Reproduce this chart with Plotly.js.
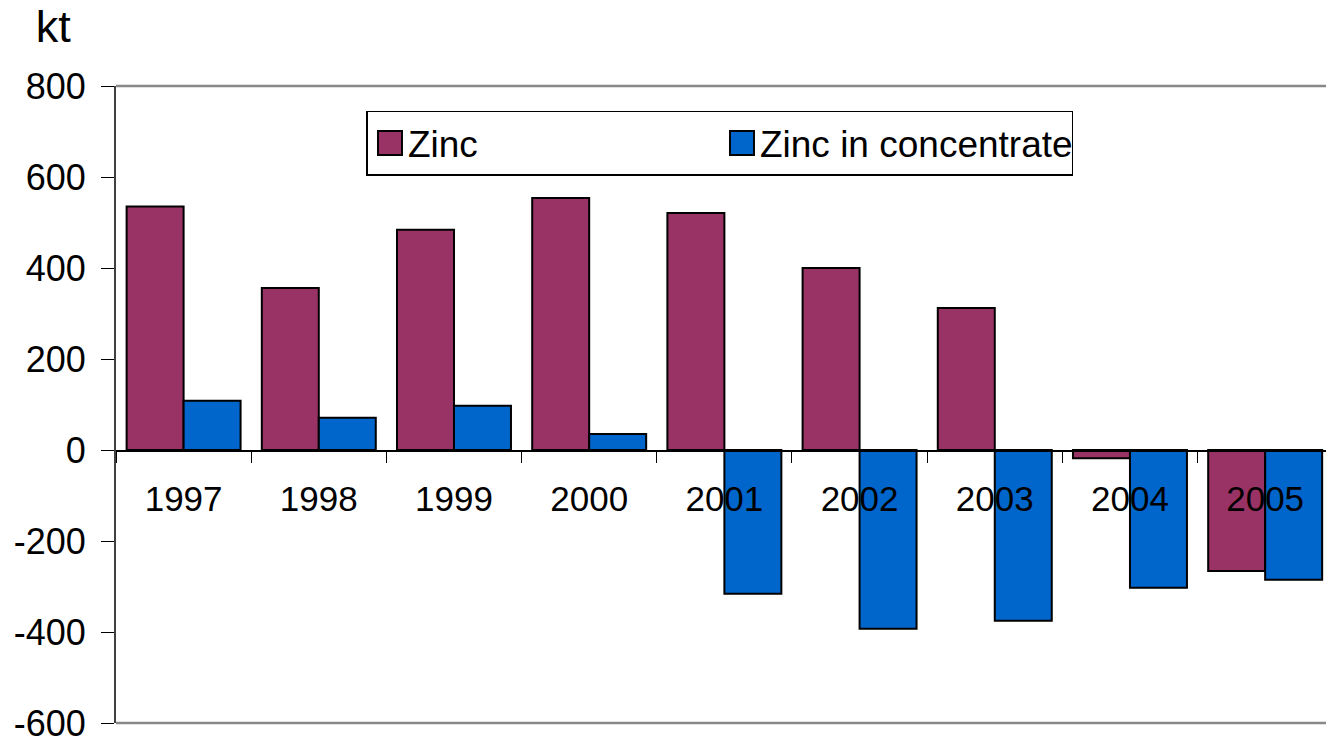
<!DOCTYPE html>
<html>
<head>
<meta charset="utf-8">
<script src="https://cdn.plot.ly/plotly-3.0.1.min.js"></script>
<style>
  html, body { margin: 0; padding: 0; background: #fff; overflow: hidden; }
  #chart { width: 1326px; height: 737px; }
</style>
</head>
<body>
<div id="chart"></div>
<script>
// values (kt)
const years = ['1997', '1998', '1999', '2000', '2001', '2002', '2003', '2004', '2005'];
const zinc = [535, 356, 484, 554, 521, 400, 312, -18, -266];
const zincConc = [108, 71, 97, 35, -316, -393, -375, -303, -285];

// y tick labels, written with a plain hyphen as in the original
const yTickVals = [-600, -400, -200, 0, 200, 400, 600, 800];
const yTickText = ['-600', '-400', '-200', '0', '200', '400', '600', '800'];

const yMin = -600;
const yMax = 800;
const font = 'Liberation Sans, Arial, sans-serif';

const traces = [
  {
    type: 'bar',
    name: 'Zinc',
    x: years,
    y: zinc,
    marker: { color: '#993366', line: { color: '#000000', width: 2 } }
  },
  {
    type: 'bar',
    name: 'Zinc in concentrate',
    x: years,
    y: zincConc,
    marker: { color: '#0066CC', line: { color: '#000000', width: 2 } }
  }
];

const layout = {
  width: 1326,
  height: 737,
  margin: { l: 116, r: 0, t: 86, b: 14 },
  paper_bgcolor: '#ffffff',
  plot_bgcolor: '#ffffff',
  font: { family: font, size: 36, color: '#000000' },
  barmode: 'group',
  bargap: 0.157,
  bargroupgap: 0,
  title: {
    text: 'kt',
    font: { family: font, size: 45, color: '#000000' },
    xref: 'container', yref: 'container',
    x: 0.027, xanchor: 'left',
    y: 0.965, yanchor: 'middle'
  },
  xaxis: {
    type: 'category',
    range: [-0.5, 8.45],
    anchor: 'free',
    position: (0 - yMin) / (yMax - yMin),
    showline: true,
    linecolor: '#000000',
    linewidth: 1.5,
    ticks: 'outside',
    tickson: 'boundaries',
    ticklen: 11,
    tickwidth: 1,
    tickcolor: '#000000',
    ticklabelstandoff: 17,
    ticklabeloverflow: 'allow',
    showgrid: false,
    zeroline: false,
    tickfont: { family: font, size: 35, color: '#000000' },
    fixedrange: true
  },
  yaxis: {
    range: [yMin, yMax],
    tickmode: 'array',
    tickvals: yTickVals,
    ticktext: yTickText,
    showline: true,
    linecolor: '#404040',
    linewidth: 2,
    ticks: 'outside',
    ticklen: 13,
    tickwidth: 1,
    tickcolor: '#000000',
    ticklabelstandoff: 8,
    ticklabeloverflow: 'allow',
    showgrid: false,
    zeroline: false,
    tickfont: { family: font, size: 36, color: '#000000' },
    fixedrange: true
  },
  shapes: [
    { type: 'line', xref: 'paper', yref: 'paper', x0: 0, x1: 1, y0: 1, y1: 1,
      line: { color: '#888888', width: 2.5 } },
    { type: 'line', xref: 'paper', yref: 'paper', x0: 0, x1: 1, y0: 0, y1: 0,
      line: { color: '#888888', width: 2.5 } }
  ],
  showlegend: true,
  legend: {
    orientation: 'h',
    x: 0.207, xanchor: 'left',
    y: 0.961, yanchor: 'top',
    bgcolor: '#ffffff',
    bordercolor: '#000000',
    borderwidth: 1.5,
    entrywidth: 307,
    entrywidthmode: 'pixels',
    font: { family: font, size: 37, color: '#000000' }
  }
};

Plotly.newPlot('chart', traces, layout, { displayModeBar: false, staticPlot: true }).then(function (gd) {
  // bigger legend squares, like the original
  gd.querySelectorAll('.legendpoints path').forEach(function (p) {
    p.setAttribute('transform', 'translate(22,0) scale(2)');
    p.style.strokeWidth = '1px';
  });
});
</script>
</body>
</html>
